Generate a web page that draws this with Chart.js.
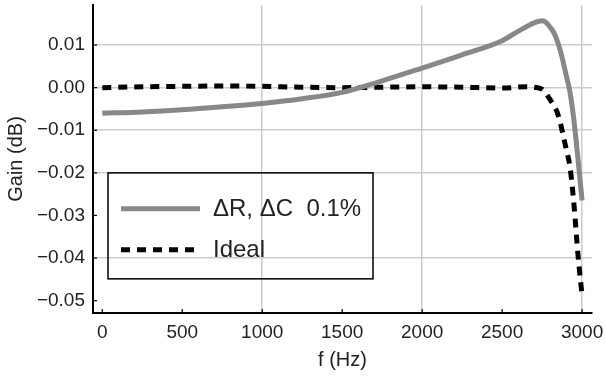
<!DOCTYPE html>
<html>
<head>
<meta charset="utf-8">
<script src="https://cdn.jsdelivr.net/npm/chart.js@4"></script>
<style>
  html, body { margin: 0; padding: 0; background: #fff; }
  #wrap { width: 606px; height: 376px; }
</style>
</head>
<body>
<div id="wrap"><canvas id="gainChart" width="606" height="376"></canvas></div>
<script>
// frequency response
const tolFreq = [0, 250, 500, 750, 1000, 1250, 1500, 1750, 2000, 2250, 2500, 2600, 2700, 2750, 2775, 2800, 2825, 2850, 2875, 2900, 2925, 2950, 2975, 3000];
const tolGain = [-0.0060, -0.0057, -0.0052, -0.0045, -0.0037, -0.0026, -0.0011, 0.0016, 0.0046, 0.0077, 0.0110, 0.0132, 0.0152, 0.0157, 0.0153, 0.0142, 0.0128, 0.0104, 0.0071, 0.0030, -0.0012, -0.0080, -0.0170, -0.0265];

const idealFreq = [0, 250, 500, 750, 1000, 1250, 1500, 1750, 2000, 2250, 2500, 2650, 2700, 2750, 2800, 2850, 2900, 2925, 2950, 2975, 3000];
const idealGain = [0.0000, 0.0002, 0.0003, 0.0004, 0.0003, 0.0001, 0.0000, 0.0001, 0.0002, 0.0001, -0.0001, 0.0002, 0.0001, -0.0004, -0.0028, -0.0064, -0.0143, -0.0188, -0.0278, -0.0395, -0.0488];

const xTicks = [0, 500, 1000, 1500, 2000, 2500, 3000];
const yTicks = [0.01, 0.00, -0.01, -0.02, -0.03, -0.04, -0.05];
const xGrid = [1000, 2000, 3000];
const yGrid = [0.01, 0.00, -0.01, -0.02, -0.04];

const seriesNames = ['\u0394R, \u0394C  0.1%', 'Ideal'];

const FONT = '"Liberation Sans", Arial, sans-serif';

function pts(xs, ys) {
    return xs.map((x, i) => ({ x: x, y: ys[i] }));
}
function near(list, v) {
    return list.some(g => Math.abs(g - v) < 1e-6);
}

// legend box inside the plot + inward tick marks
const frameExtras = {
    id: 'frameExtras',
    afterDatasetsDraw(chart) {
        const c = chart.ctx;
        const xs = chart.scales.x, ys = chart.scales.y;
        const a = chart.chartArea;
        c.save();
        c.strokeStyle = '#000';
        c.lineWidth = 1.2;
        xTicks.forEach(v => {
            const px = xs.getPixelForValue(v);
            c.beginPath(); c.moveTo(px, a.bottom); c.lineTo(px, a.bottom - 4); c.stroke();
        });
        yTicks.forEach(v => {
            const py = ys.getPixelForValue(v);
            c.beginPath(); c.moveTo(a.left, py); c.lineTo(a.left + 4, py); c.stroke();
        });

        // legend
        const bx = a.left + 15, by = ys.getPixelForValue(-0.02);
        const bw = 265, bh = 106;
        c.lineWidth = 1.5;
        c.strokeRect(bx, by, bw, bh);
        const ds = chart.data.datasets;
        const rows = [by + 36, by + 77];
        ds.forEach((d, i) => {
            c.beginPath();
            c.strokeStyle = d.borderColor;
            c.lineWidth = d.borderWidth;
            c.setLineDash(d.borderDash || []);
            c.moveTo(bx + 13, rows[i]);
            c.lineTo(bx + 92, rows[i]);
            c.stroke();
            c.setLineDash([]);
            c.fillStyle = '#222';
            c.font = '24px ' + FONT;
            c.textBaseline = 'middle';
            c.fillText(seriesNames[i], bx + 105, rows[i] + 1);
        });
        c.restore();
    }
};

new Chart(document.getElementById('gainChart'), {
    type: 'line',
    data: {
        datasets: [{
            label: seriesNames[0],
            data: pts(tolFreq, tolGain),
            borderColor: '#888888',
            borderWidth: 5,
            cubicInterpolationMode: 'monotone',
            pointRadius: 0
        }, {
            label: seriesNames[1],
            data: pts(idealFreq, idealGain),
            borderColor: '#000000',
            borderWidth: 5,
            borderDash: [9, 7],
            cubicInterpolationMode: 'monotone',
            pointRadius: 0
        }]
    },
    options: {
        responsive: false,
        animation: false,
        devicePixelRatio: 1,
        layout: { padding: { top: 5, right: 14, left: 0, bottom: 0 } },
        plugins: {
            legend: { display: false },
            tooltip: { enabled: false }
        },
        scales: {
            x: {
                type: 'linear',
                min: -58,
                max: 3062,
                afterBuildTicks: s => { s.ticks = xTicks.map(v => ({ value: v })); },
                afterFit: s => { s.height = 63; s.paddingLeft = 0; s.paddingRight = 0; },
                border: { color: '#000', width: 2 },
                grid: {
                    drawTicks: false,
                    lineWidth: 1.5,
                    color: ctx => near(xGrid, ctx.tick.value) ? '#cccccc' : 'rgba(0,0,0,0)'
                },
                ticks: {
                    padding: 8,
                    color: '#222',
                    font: { family: FONT, size: 19 },
                    maxRotation: 0,
                    callback: v => String(v)
                },
                title: {
                    display: true,
                    text: 'f (Hz)',
                    color: '#222',
                    font: { family: FONT, size: 20 },
                    padding: { top: 0 }
                }
            },
            y: {
                type: 'linear',
                min: -0.0529,
                max: 0.0194,
                afterBuildTicks: s => { s.ticks = yTicks.map(v => ({ value: v })); },
                afterFit: s => { s.width = 93; s.paddingTop = 0; s.paddingBottom = 0; },
                border: { color: '#000', width: 2 },
                grid: {
                    drawTicks: false,
                    lineWidth: 1.5,
                    color: ctx => near(yGrid, ctx.tick.value) ? '#cccccc' : 'rgba(0,0,0,0)'
                },
                ticks: {
                    padding: 8,
                    color: '#222',
                    font: { family: FONT, size: 19 },
                    callback: v => {
                        const r = Math.round(v * 100) / 100;
                        return (r < 0 ? '\u2212' : '') + Math.abs(r).toFixed(2);
                    }
                },
                title: {
                    display: true,
                    text: 'Gain (dB)',
                    color: '#222',
                    font: { family: FONT, size: 20 },
                    padding: { bottom: 0 }
                }
            }
        }
    },
    plugins: [frameExtras]
});
</script>
</body>
</html>
